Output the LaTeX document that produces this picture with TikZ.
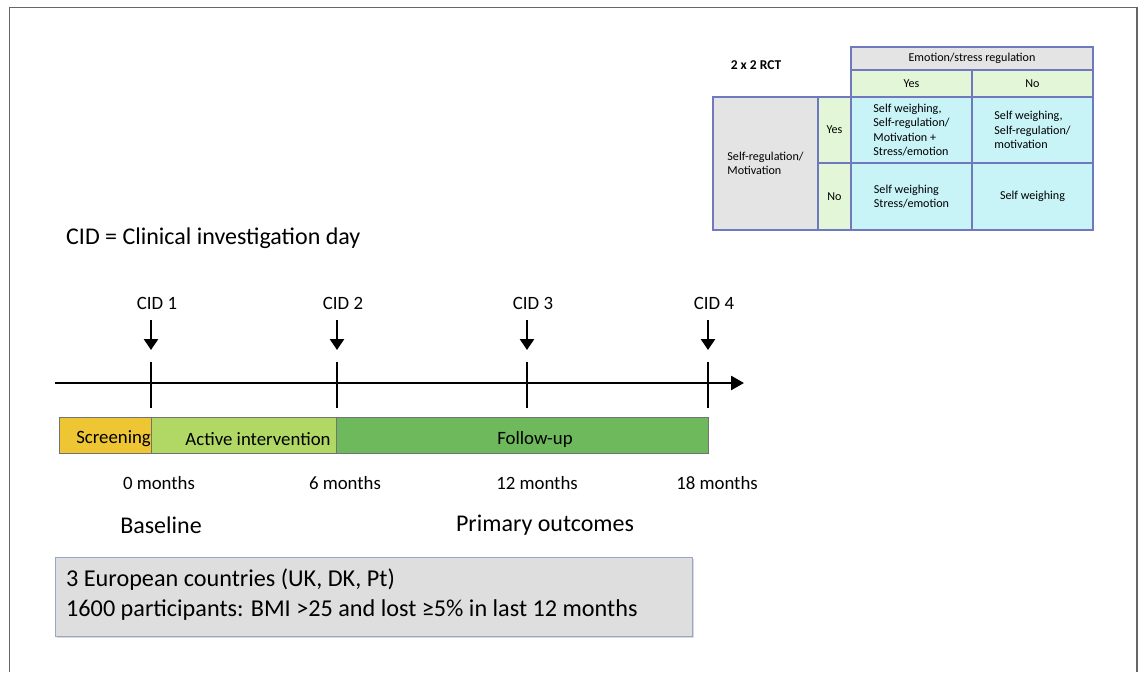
\documentclass[tikz,border=0pt]{standalone}
\usepackage{fontspec}
\setmainfont{Carlito}
\usetikzlibrary{arrows.meta}
\definecolor{tblborder}{HTML}{7079BE}
\definecolor{cellgreen}{HTML}{E3F6D8}
\definecolor{cellcyan}{HTML}{C8F4F8}
\definecolor{cellgray}{HTML}{E4E4E4}
\definecolor{scrcol}{HTML}{EEC634}
\definecolor{actcol}{HTML}{B1D865}
\definecolor{folcol}{HTML}{6DB95B}
\definecolor{boxgray}{HTML}{DEDEDE}
\definecolor{boxborder}{HTML}{98A6CC}
\tikzset{
  cell/.style={draw=tblborder, line width=1.6pt, inner sep=1pt, align=center,
    font=\fontsize{12.1}{14.6}\selectfont},
  bar/.style={draw=black!55, line width=0.7pt, inner sep=0pt},
  lbl/.style={font=\fontsize{18.8}{22}\selectfont, inner sep=0pt},
  big/.style={font=\fontsize{24}{28}\selectfont, inner sep=0pt},
  tick/.style={line width=2.6pt},
  downarr/.style={line width=2.6pt, -{Triangle[length=11pt,width=14pt]}}
}
\begin{document}
\begin{tikzpicture}[x=1pt,y=-1pt]
\useasboundingbox (0,0) rectangle (1143,672);
% outer frame
\draw[black!60, line width=1.6pt] (9.5,672) -- (9.5,7.5) -- (1137,7.5) -- (1137,672);

% ---------- table ----------
\node[font=\bfseries\fontsize{13.5}{15}\selectfont, inner sep=0pt] (rct) at (756,65) {2 x 2 RCT};
\node[cell, fill=cellgray, minimum width=242, minimum height=23] (hdr) at (972,58.5) {Emotion/stress regulation};
\node[cell, fill=cellgreen, minimum width=121, minimum height=27] (hyes) at (911.5,83.5) {Yes};
\node[cell, fill=cellgreen, minimum width=121, minimum height=27] (hno) at (1032.5,83.5) {No};
\node[cell, fill=cellgray, minimum width=105, minimum height=133, align=left] (left) at (765.5,163.5) {Self-regulation/\\Motivation};
\node[cell, fill=cellgreen, minimum width=33, minimum height=66] (ryes) at (834.5,130) {Yes};
\node[cell, fill=cellgreen, minimum width=33, minimum height=67] (rno) at (834.5,196.5) {No};
\node[cell, fill=cellcyan, minimum width=121, minimum height=66, align=left] (c11) at (911.5,130) {Self weighing,\\Self-regulation/\\Motivation +\\Stress/emotion};
\node[cell, fill=cellcyan, minimum width=121, minimum height=66, align=left] (c12) at (1032.5,130) {Self weighing,\\Self-regulation/\\motivation};
\node[cell, fill=cellcyan, minimum width=121, minimum height=67, align=left] (c21) at (911.5,196.5) {Self weighing\\Stress/emotion};
\node[cell, fill=cellcyan, minimum width=121, minimum height=67] (c22) at (1032.5,196.5) {Self weighing};

% ---------- legend ----------
\node[big, anchor=west] (cidlegend) at (66,238) {CID = Clinical investigation day};

% ---------- timeline ----------
\coordinate (axstart) at (55,383);
\coordinate (axend) at (744,383);
\draw[line width=2.6pt, -{Triangle[length=13pt,width=14pt]}] (axstart) -- (axend);

\foreach \i/\x in {1/151,2/337,3/527,4/708}{
  \node[lbl] (cid\i) at (\x+6,303) {CID \i};
  \coordinate (as\i) at (\x,320);
  \coordinate (ae\i) at (\x,350);
  \draw[downarr] (as\i) -- (ae\i);
  \coordinate (ts\i) at (\x,362);
  \coordinate (te\i) at (\x,408);
  \draw[tick] (ts\i) -- (te\i);
}

% bars
\node[bar, fill=scrcol, minimum width=92, minimum height=36, anchor=north west] (scr) at (59,417) {};
\node[bar, fill=actcol, minimum width=185, minimum height=36, anchor=north west] (act) at (151,417) {};
\node[bar, fill=folcol, minimum width=372, minimum height=36, anchor=north west] (fol) at (336,417) {};
\node[lbl, anchor=east] (scrtxt) at (151,439) {Screening};
\node[lbl] (acttxt) at (258,439) {Active intervention};
\node[lbl] (foltxt) at (535,439) {Follow-up};

% months
\node[lbl] (m0) at (159,483) {0 months};
\node[lbl] (m6) at (345,483) {6 months};
\node[lbl] (m12) at (537,483) {12 months};
\node[lbl] (m18) at (717,483) {18 months};

\node[big] (base) at (161,525) {Baseline};
\node[big] (prim) at (545,525) {Primary outcomes};

% bottom box
\fill[black!15] (57,559) rectangle (694,638);
\node[draw=boxborder, line width=1pt, fill=boxgray, minimum width=637, minimum height=79, anchor=north west] (infobox) at (55,557) {};
\node[anchor=west, align=left, font=\fontsize{24.2}{30}\selectfont, inner sep=0pt] (infotxt) at (66,595)
  {3 European countries (UK, DK, Pt)\\1600 participants: BMI >25 and lost ≥5\% in last 12 months};
\end{tikzpicture}
\end{document}
